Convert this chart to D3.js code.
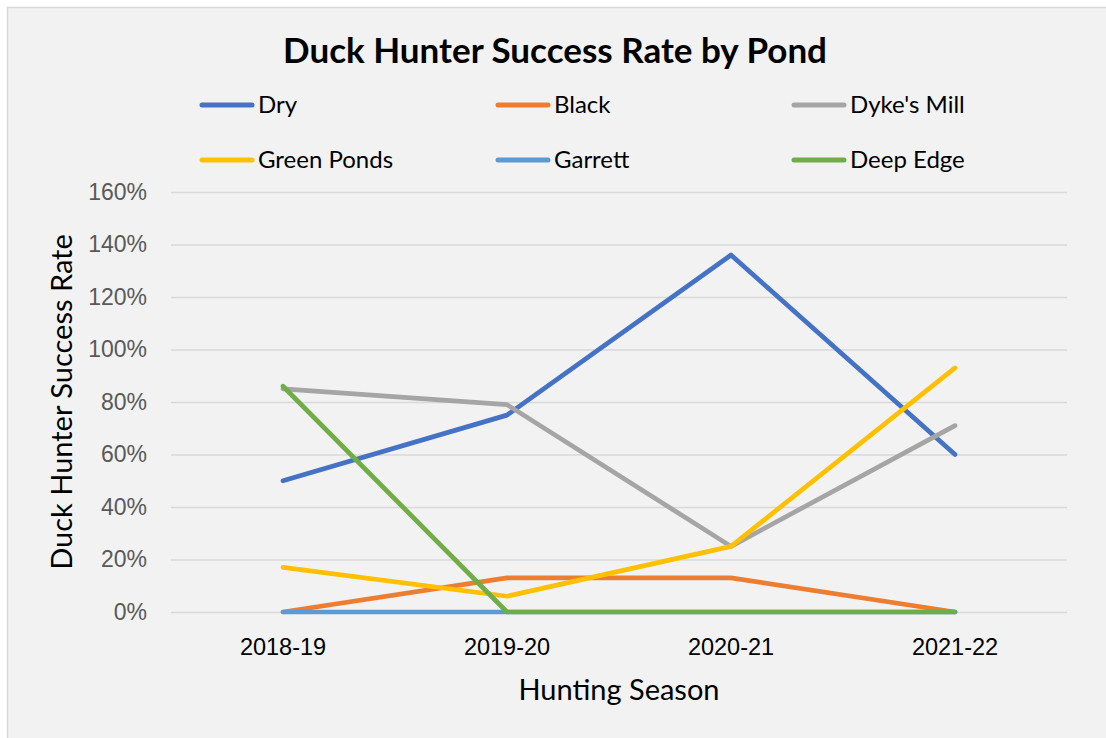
<!DOCTYPE html>
<html>
<head>
<meta charset="utf-8">
<script src="https://cdn.jsdelivr.net/npm/d3@7"></script>
<style>
  body { margin: 0; background: #fff; }
  svg { display: block; font-family: Lato, "Open Sans", sans-serif; }
</style>
</head>
<body>
<div id="chart"></div>
<script>
// data
const seasons = ["2018-19", "2019-20", "2020-21", "2021-22"];
const ponds = ["Dry", "Black", "Dyke's Mill", "Green Ponds", "Garrett", "Deep Edge"];
const dry = [0.50, 0.75, 1.36, 0.60];
const black = [0.00, 0.13, 0.13, 0.00];
const dykesMill = [0.85, 0.79, 0.25, 0.71];
const greenPonds = [0.17, 0.06, 0.25, 0.93];
const garrett = [0.00, 0.00, 0.00, 0.00];
const deepEdge = [0.86, 0.00, 0.00, 0.00];
const yTicks = [0, 0.2, 0.4, 0.6, 0.8, 1.0, 1.2, 1.4, 1.6];

const seriesValues = [dry, black, dykesMill, greenPonds, garrett, deepEdge];
const colours = ["#4472C4", "#ED7D31", "#A5A5A5", "#FFC000", "#5B9BD5", "#70AD47"];

const width = 1106, height = 738;
const margin = { top: 192, right: 39, bottom: 126, left: 171 };
const plotW = width - margin.left - margin.right,
      plotH = height - margin.top - margin.bottom;

const svg = d3.select("#chart")
  .append("svg")
    .attr("width", width)
    .attr("height", height);

// chart area background + border
svg.append("rect")
  .attr("x", 7.5)
  .attr("y", 7.5)
  .attr("width", width + 10)
  .attr("height", height + 10)
  .attr("fill", "#f2f2f2")
  .attr("stroke", "#d9d9d9")
  .attr("stroke-width", 1.5);

const g = svg.append("g")
  .attr("transform", "translate(" + margin.left + "," + margin.top + ")");

let x = d3.scaleBand()
  .domain(seasons)
  .range([0, plotW])
  .padding(0);

let y = d3.scaleLinear()
  .domain([0, 1.6])
  .range([plotH, 0]);

// gridlines + y labels
let yAxis = d3.axisLeft(y)
  .tickValues(yTicks)
  .tickSize(-plotW)
  .tickPadding(24)
  .tickFormat(d3.format(".0%"));

g.append("g")
  .attr("class", "y axis")
  .call(yAxis)
  .call(function (sel) {
    sel.select(".domain").remove();
    sel.selectAll(".tick line")
      .attr("stroke", "#d9d9d9")
      .attr("stroke-width", 1.5);
    sel.selectAll(".tick text")
      .attr("fill", "#595959")
      .style("font-size", "23px");
  });

// x labels
let xAxis = d3.axisBottom(x).tickSize(0).tickPadding(26);

g.append("g")
  .attr("class", "x axis")
  .attr("transform", `translate(0, ${plotH})`)
  .call(xAxis)
  .call(function (sel) {
    sel.select(".domain").remove();
    sel.selectAll(".tick text")
      .attr("fill", "#000")
      .style("font-size", "23.5px");
  });

// lines
let line = d3.line()
  .x(function (d, i) { return x(seasons[i]) + x.bandwidth() / 2; })
  .y(function (d) { return y(d); });

g.selectAll(".series")
  .data(seriesValues)
  .enter()
  .append("path")
    .attr("class", "series")
    .attr("d", line)
    .attr("fill", "none")
    .attr("stroke", function (d, i) { return colours[i]; })
    .attr("stroke-width", 4.7)
    .attr("stroke-linecap", "round")
    .attr("stroke-linejoin", "round");

// title
svg.append("text")
  .attr("x", 555)
  .attr("y", 63)
  .attr("text-anchor", "middle")
  .style("font-size", "35px")
  .style("font-weight", "bold")
  .text("Duck Hunter Success Rate by Pond");

// axis titles
svg.append("text")
  .attr("transform", "translate(72," + (margin.top + plotH / 2) + ") rotate(-90)")
  .attr("text-anchor", "middle")
  .style("font-size", "29px")
  .text("Duck Hunter Success Rate");

svg.append("text")
  .attr("x", margin.left + plotW / 2)
  .attr("y", 700)
  .attr("text-anchor", "middle")
  .style("font-size", "29px")
  .text("Hunting Season");

// legend, 3 per row
let legend = svg.selectAll(".legend")
  .data(ponds)
  .enter().append("g")
  .attr("class", "legend")
  .attr("transform", function (d, i) {
    return "translate(" + (202 + (i % 3) * 296) + "," + (105 + Math.floor(i / 3) * 55) + ")";
  });

legend.append("line")
  .attr("x1", 0)
  .attr("x2", 50)
  .attr("stroke", function (d, i) { return colours[i]; })
  .attr("stroke-width", 5)
  .attr("stroke-linecap", "round");

legend.append("text")
  .attr("x", 56)
  .attr("dy", ".35em")
  .style("font-size", "24px")
  .text(function (d) { return d; });
</script>
</body>
</html>
